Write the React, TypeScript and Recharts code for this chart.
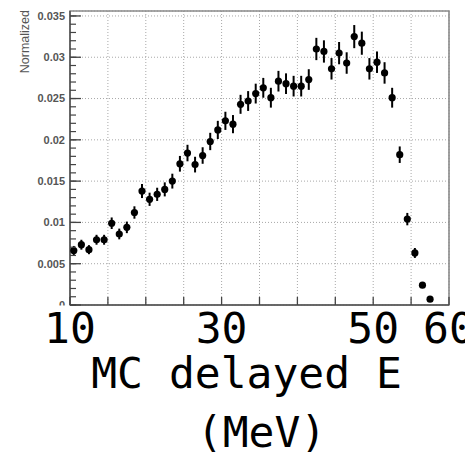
import {
  CartesianGrid,
  ErrorBar,
  ReferenceArea,
  Scatter,
  ScatterChart,
  XAxis,
  YAxis,
} from 'recharts';

// bin centres (MeV), normalized counts and their errors
const binCenters = [
  10.5, 11.5, 12.5, 13.5, 14.5, 15.5, 16.5, 17.5, 18.5, 19.5,
  20.5, 21.5, 22.5, 23.5, 24.5, 25.5, 26.5, 27.5, 28.5, 29.5,
  30.5, 31.5, 32.5, 33.5, 34.5, 35.5, 36.5, 37.5, 38.5, 39.5,
  40.5, 41.5, 42.5, 43.5, 44.5, 45.5, 46.5, 47.5, 48.5, 49.5,
  50.5, 51.5, 52.5, 53.5, 54.5, 55.5, 56.5, 57.5,
];
const values = [
  0.0066, 0.0073, 0.0067, 0.0079, 0.0079, 0.0099, 0.0086, 0.0094, 0.0112, 0.0138,
  0.0128, 0.0134, 0.014, 0.015, 0.0171, 0.0184, 0.017, 0.0181, 0.0198, 0.0212,
  0.0223, 0.0219, 0.0243, 0.0247, 0.0256, 0.0263, 0.0251, 0.0271, 0.0268, 0.0265,
  0.0265, 0.0273, 0.031, 0.0307, 0.0286, 0.0305, 0.0293, 0.0325, 0.0317, 0.0286,
  0.0294, 0.0281, 0.0251, 0.0182, 0.0104, 0.0063, 0.0024, 0.0007,
];
const errors = [
  0.00055, 0.0006, 0.00055, 0.0006, 0.0006, 0.0007, 0.00065, 0.0007, 0.00075, 0.00085,
  0.0008, 0.0008, 0.00085, 0.0009, 0.00095, 0.001, 0.00095, 0.001, 0.00105, 0.0011,
  0.0011, 0.0011, 0.00115, 0.0012, 0.0012, 0.0012, 0.0012, 0.00125, 0.00125, 0.00125,
  0.00125, 0.00125, 0.00135, 0.00135, 0.0013, 0.00135, 0.0013, 0.0014, 0.0014, 0.0013,
  0.0013, 0.0013, 0.0012, 0.001, 0.00075, 0.0006, 0.00035, 0.0002,
];

const xMajorTicks = [10, 15, 20, 25, 30, 35, 40, 45, 50, 55, 60];
const xLabelled = [10, 30, 50, 60];
const xMinorTicks = Array.from({ length: 51 }, (_, i) => 10 + i);
const yMajorTicks = [0, 0.005, 0.01, 0.015, 0.02, 0.025, 0.03, 0.035];
const yLabels = ['0', '0.005', '0.01', '0.015', '0.02', '0.025', '0.03', '0.035'];
const yMinorTicks = Array.from({ length: 36 }, (_, i) => Math.round(i * 1000) / 1e6);
const Y_MAX = 0.0356;

const data = binCenters.map((x, i) => ({ x, y: values[i], err: errors[i] }));

const MONO = '"DejaVu Sans Mono", monospace';
const SANS = '"Liberation Sans", Arial, sans-serif';
const TICK_COLOR = '#444';

function XMajorTick({ x, y, payload }: any) {
  const v = payload.value;
  return (
    <g>
      <line x1={x} x2={x} y1={y} y2={y - 8} stroke={TICK_COLOR} strokeWidth={1.3} />
      {xLabelled.includes(v) && (
        <text x={x} y={y + 38} textAnchor="middle" fontFamily={MONO} fontSize={43} fill="#000">
          {v}
        </text>
      )}
    </g>
  );
}

// the minor axis sits 1px further out than the main one
function XMinorTick({ x, y }: any) {
  return <line x1={x} x2={x} y1={y - 1} y2={y - 5} stroke={TICK_COLOR} strokeWidth={1.2} />;
}

function YMajorTick({ x, y, payload, index }: any) {
  const label = yLabels[yMajorTicks.indexOf(payload.value)] ?? '';
  const isZero = payload.value === 0;
  return (
    <g>
      <line x1={x} x2={x + 11} y1={y} y2={y} stroke={TICK_COLOR} strokeWidth={1.3} />
      {isZero && (
        <defs>
          <clipPath id={`yzero-${index}`}>
            <rect x={0} y={0} width={x} height={y + 0.5} />
          </clipPath>
        </defs>
      )}
      <text
        x={x - 5}
        y={y}
        dy="0.36em"
        textAnchor="end"
        fontFamily={SANS}
        fontSize={11}
        fontWeight={600}
        fill="#555"
        clipPath={isZero ? `url(#yzero-${index})` : undefined}
      >
        {label}
      </text>
    </g>
  );
}

function YMinorTick({ x, y }: any) {
  return <line x1={x + 1} x2={x + 7} y1={y} y2={y} stroke={TICK_COLOR} strokeWidth={1.2} />;
}

function XTitle({ viewBox }: any) {
  const cx = viewBox.x + viewBox.width / 2;
  const base = viewBox.y;
  return (
    <g fontFamily={MONO} fontSize={43} fill="#000">
      <text x={cx} y={base + 83} textAnchor="middle" style={{ whiteSpace: 'pre' }}>
        {'MC delayed E\u00a0'}
      </text>
      <text x={cx + 2} y={base + 142} textAnchor="middle">
        (MeV)
      </text>
    </g>
  );
}

function Dot({ cx, cy }: any) {
  return <circle cx={cx} cy={cy} r={3.6} fill="#000" />;
}

export default function App() {
  return (
    <div style={{ position: 'absolute', left: 0, top: 0, width: 465, height: 453, background: '#fff', overflow: 'hidden' }}>
      <ScatterChart width={465} height={453} margin={{ top: 11, right: 16, bottom: 146, left: 68 }}>
        <CartesianGrid stroke="#a8a8a8" strokeDasharray="1 2" />
        <XAxis
          type="number"
          dataKey="x"
          domain={[10, 60]}
          ticks={xMajorTicks}
          interval={0}
          allowDataOverflow
          height={1}
          tickSize={0}
          tickMargin={0}
          axisLine={{ stroke: '#555', strokeWidth: 1.5 }}
          tickLine={false}
          tick={<XMajorTick />}
          label={<XTitle />}
        />
        <XAxis
          xAxisId="minor"
          type="number"
          domain={[10, 60]}
          ticks={xMinorTicks}
          interval={0}
          allowDataOverflow
          height={1}
          tickSize={0}
          tickMargin={0}
          axisLine={false}
          tickLine={false}
          tick={<XMinorTick />}
        />
        <YAxis
          type="number"
          dataKey="y"
          domain={[0, Y_MAX]}
          ticks={yMajorTicks}
          interval={0}
          allowDataOverflow
          width={1}
          tickSize={0}
          tickMargin={0}
          axisLine={{ stroke: '#555', strokeWidth: 1.5 }}
          tickLine={false}
          tick={<YMajorTick />}
        />
        <YAxis
          yAxisId="minor"
          type="number"
          domain={[0, Y_MAX]}
          ticks={yMinorTicks}
          interval={0}
          allowDataOverflow
          width={1}
          tickSize={0}
          tickMargin={0}
          axisLine={false}
          tickLine={false}
          tick={<YMinorTick />}
        />
        <ReferenceArea x1={10} x2={60} y1={0} y2={Y_MAX} fill="none" stroke="#8a8a8a" strokeWidth={1.6} />
        <Scatter data={data} shape={<Dot />} isAnimationActive={false}>
          <ErrorBar dataKey="err" direction="y" width={0} stroke="#000" strokeWidth={2} isAnimationActive={false} />
        </Scatter>
      </ScatterChart>
      <svg width={465} height={453} style={{ position: 'absolute', left: 0, top: 0, pointerEvents: 'none' }}>
        <text
          transform="translate(29, 10) rotate(-90)"
          textAnchor="end"
          fontFamily={SANS}
          fontSize={12.5}
          fill="#555"
        >
          Normalized
        </text>
      </svg>
    </div>
  );
}
